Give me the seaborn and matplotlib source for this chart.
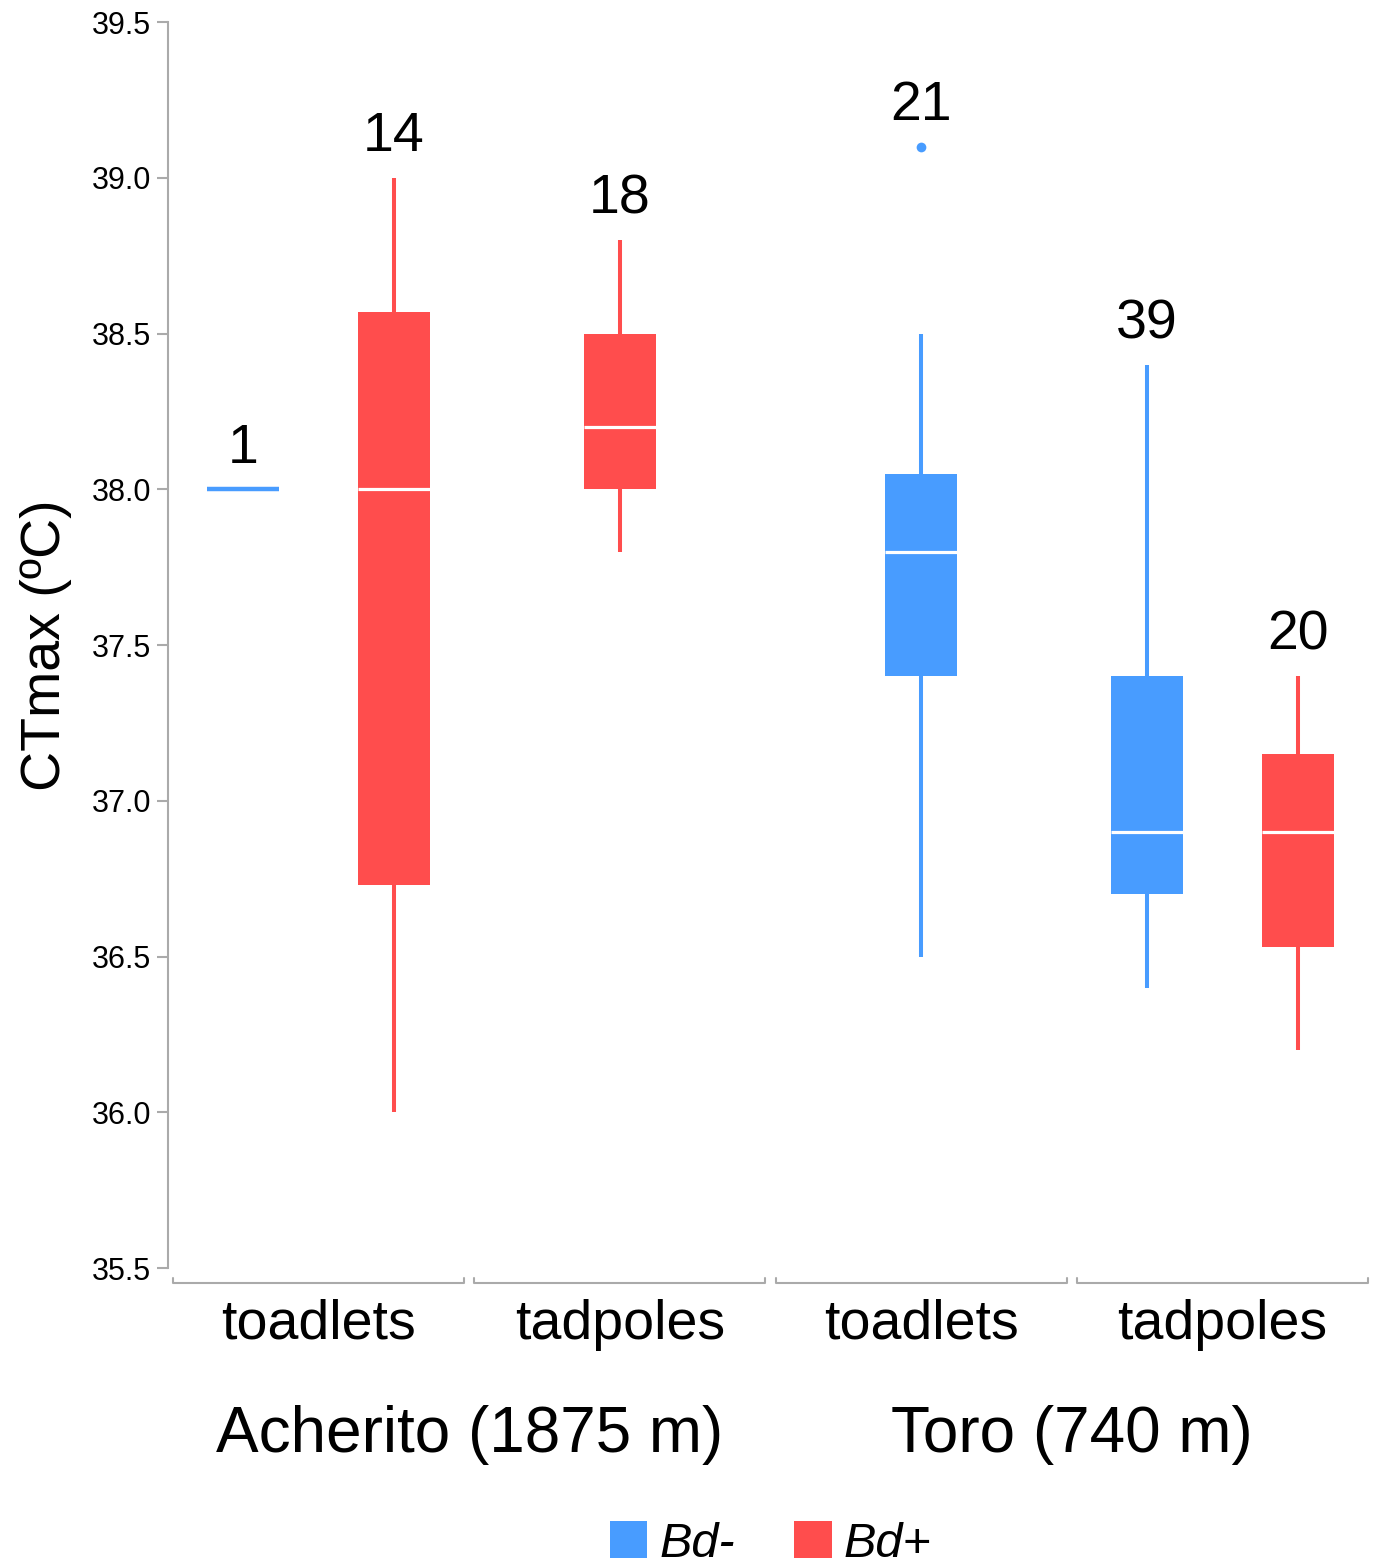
import numpy as np
import pandas as pd
import matplotlib
matplotlib.use("Agg")
import matplotlib.pyplot as plt
from matplotlib.patches import Patch
import matplotlib.transforms as mtransforms
import seaborn as sns

# Box summaries (one entry per box)
sites = ["Acherito (1875 m)", "Acherito (1875 m)", "Acherito (1875 m)",
         "Toro (740 m)", "Toro (740 m)", "Toro (740 m)"]
stages = ["toadlets", "toadlets", "tadpoles", "toadlets", "tadpoles", "tadpoles"]
bd_status = ["Bd-", "Bd+", "Bd+", "Bd-", "Bd-", "Bd+"]
n_obs = [1, 14, 18, 21, 39, 20]
whisk_lo = [38.0, 36.0, 37.8, 36.5, 36.4, 36.2]
q1 = [38.0, 36.73, 38.0, 37.4, 36.7, 36.53]
median = [38.0, 38.0, 38.2, 37.8, 36.9, 36.9]
q3 = [38.0, 38.57, 38.5, 38.05, 37.4, 37.15]
whisk_hi = [38.0, 39.0, 38.8, 38.5, 38.4, 37.4]
outliers = [[], [], [], [39.1], [], []]

site_order = ["Acherito (1875 m)", "Toro (740 m)"]
stage_order = ["toadlets", "tadpoles"]
bd_order = ["Bd-", "Bd+"]
palette = {"Bd-": "#489CFF", "Bd+": "#FF4D4D"}

sns.set_theme(style="white")
plt.rcParams['font.family'] = ['Liberation Sans', 'DejaVu Sans']
plt.rcParams['text.color'] = 'black'
plt.rcParams['axes.labelcolor'] = 'black'
plt.rcParams['xtick.labelcolor'] = 'black'
plt.rcParams['ytick.labelcolor'] = 'black'

# category slot for each box, dodged only when both Bd levels share a slot
cat_idx = [site_order.index(s) * 2 + stage_order.index(t) for s, t in zip(sites, stages)]
pos = []
for i, c in enumerate(cat_idx):
    if cat_idx.count(c) > 1:
        pos.append(c + (-0.25 if bd_status[i] == "Bd-" else 0.25))
    else:
        pos.append(float(c))

# points that reproduce each box's quartiles / whiskers
rows = []
for i in range(len(pos)):
    if n_obs[i] == 1:
        vals = [median[i]]
    else:
        vals = [whisk_lo[i], q1[i], q1[i], median[i], median[i], q3[i], q3[i], whisk_hi[i]] + outliers[i]
    for v in vals:
        rows.append({"box": i, "pos": pos[i], "ctmax": v, "bd": bd_status[i]})
df = pd.DataFrame(rows)

fig = plt.figure(figsize=(13.77, 15.68), dpi=100)
ax = fig.add_axes([0.122, 0.1913, 0.8751, 0.7946])

box_w = 0.239
for i, sub in df.groupby("box"):
    col = palette[bd_status[i]]
    med_col = col if n_obs[i] == 1 else "white"
    sns.boxplot(x=sub["pos"], y=sub["ctmax"], native_scale=True, width=box_w,
                color=col, linecolor=col, saturation=1, linewidth=2.9,
                showcaps=False,
                boxprops=dict(linewidth=0),
                medianprops=dict(color=med_col, linewidth=2.3 if n_obs[i] > 1 else 3.2),
                flierprops=dict(marker="o", markerfacecolor=col, markeredgewidth=0, markersize=7),
                ax=ax)
    top = max([whisk_hi[i]] + outliers[i])
    ax.text(pos[i], top + 0.085, str(n_obs[i]), ha="center", va="baseline",
            fontsize=40, color="black")

ax.set_xlim(-0.5, 3.5)
ax.set_ylim(35.5, 39.5)
ax.set_yticks(np.arange(35.5, 39.51, 0.5))
ax.set_yticklabels([f"{v:.1f}" for v in np.arange(35.5, 39.51, 0.5)])
ax.set_xticks(range(4))
ax.set_xticklabels(stage_order * 2)
ax.tick_params(axis="x", length=0, pad=22, labelsize=40)
ax.tick_params(axis="y", length=8, width=1.5, color="#AAAAAA", left=True,
               labelsize=22, pad=4)
ax.set_xlabel("")
ax.set_ylabel("CTmax (ºC)", fontsize=40)
ax.yaxis.set_label_coords(-0.08, 0.5)

for side in ["top", "right", "bottom"]:
    ax.spines[side].set_visible(False)
ax.spines["left"].set_color("#AAAAAA")
ax.spines["left"].set_linewidth(1.5)

# bracket under each stage
trans = mtransforms.blended_transform_factory(ax.transData, ax.transAxes)
for c in range(4):
    x0, x1 = c - 0.483, c + 0.483
    ax.plot([x0, x0, x1, x1], [-0.008, -0.012, -0.012, -0.008], transform=trans,
            color="#AAAAAA", lw=1.5, clip_on=False)

for k, site in enumerate(site_order):
    ax.text(2 * k + 0.5, -0.1477, site, transform=trans, ha="center",
            va="baseline", fontsize=46, color="black")

handles = [Patch(facecolor=palette[b], edgecolor="none", label=b) for b in bd_order]
ax.legend(handles=handles, loc="center", bbox_to_anchor=(0.5, -0.2215),
          bbox_transform=ax.transAxes, ncol=2, frameon=False,
          prop=dict(style="italic", size=35), handlelength=0.78, handleheight=0.78,
          handletextpad=0.25, columnspacing=1.2)

fig.savefig("out.png", dpi=100)
